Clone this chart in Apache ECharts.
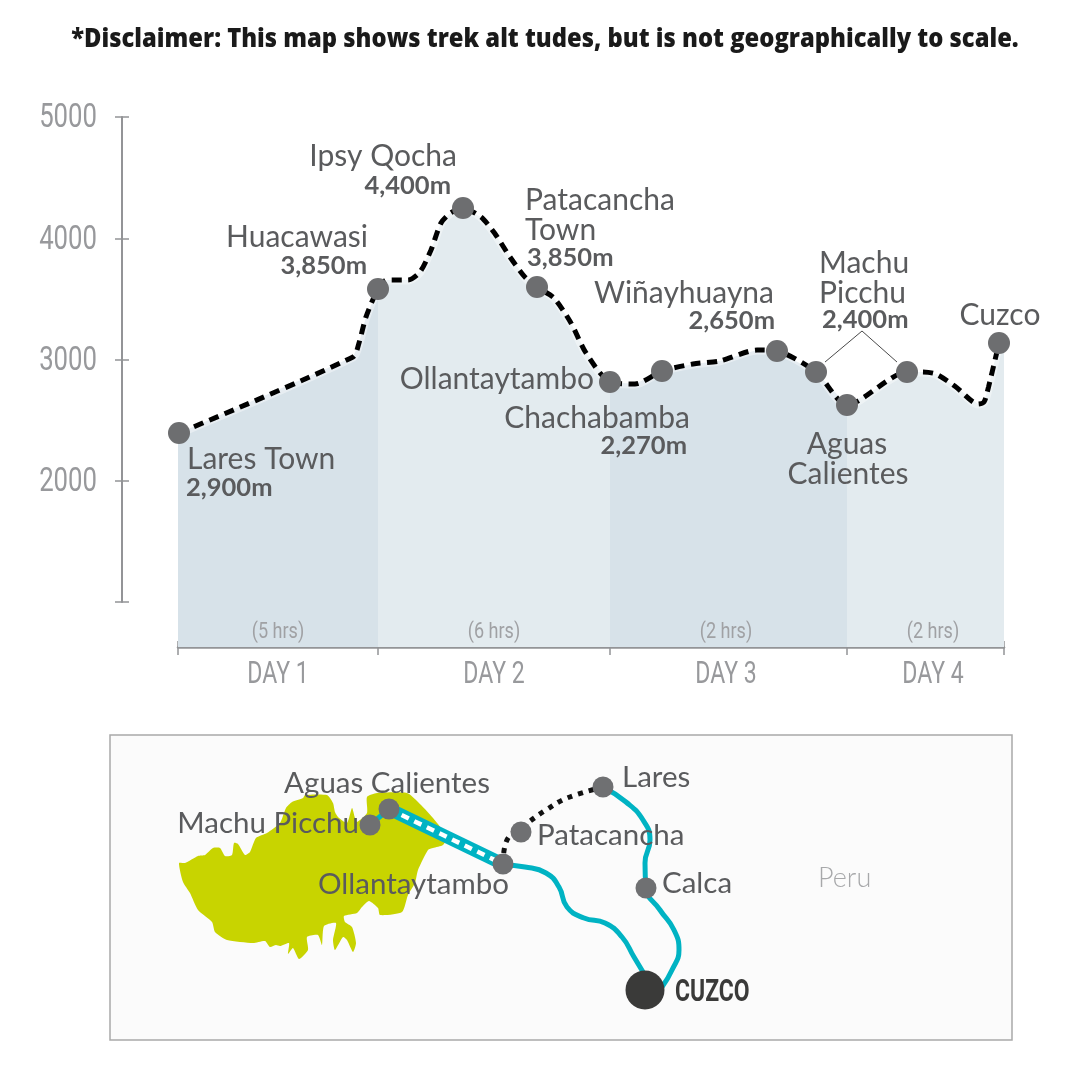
<!DOCTYPE html>
<html><head><meta charset="utf-8">
<style>html,body{margin:0;padding:0;background:#fff}#c{width:1080px;height:1080px}</style>
<script src="https://cdn.jsdelivr.net/npm/echarts@6/dist/echarts.min.js"></script>
</head><body><div id="c"></div>
<script>
// ---------- elevation data (x = trail position, y = altitude) ----------
const trailX = [1,175,181,188,200,209,230,242,253,263,272.5,285,303,316.5,332,347,359,376,393,408,432,457,484,515,542,579,599,638,669,729,744,758,778,800,806,810.5,821];
const trailAlt = [2394,3021,3136,3351,3581,3656,3656,3722,3903,4126,4208,4249,4175,4043,3845,3680,3598,3507,3301,3054,2814,2798,2905,2963,2988,3078,3070,2897,2625,2897,2897,2880,2773,2633,2649,2773,3136];
const waypointX = [1,200,285,359,432,484,599,638,669,729,821];
const waypointAlt = [2394,3581,4249,3598,2814,2905,3070,2897,2625,2897,3136];
const dayBounds = [0,200,432,669,826];
const dayLabelX = [99,315,547,754];
const dayLabels = ['DAY 1','DAY 2','DAY 3','DAY 4'];
const hourLabels = ['(5 hrs)','(6 hrs)','(2 hrs)','(2 hrs)'];
const yTicks = [2000,3000,4000,5000];
const fillEnd = [826,3136];
const fillFloor = 629;
const hourAlt = 752;
const dayLabelAlt = 398;
const leaderX = [647,684,719];
const leaderAlt = [2979,3235,2979];
const titleText = '*Disclaimer: This map shows trek alt tudes, but is not geographically to scale.';

// ---------- map data ----------
const landX = [69,75,88,95,103,110,115,122,124,128,135,140,146,157,170,176,182,193,195,217,223,225,228,237,242,245,247,257,257,267,297,308,323,337,333,323,318,308,305,298,292,270,268,259,252,247,234,235,242,246,243,237,233,225,223,226,214,212,208,197,198,189,183,178,179,170,166,160,155,143,117,105,102,88,80,73];
const landY = [128,128,121,120,113,113,121,120,108,109,120,117,103,98,88,73,67,63,60,60,68,77,82,88,73,83,87,78,62,58,58,67,83,102,110,113,115,135,148,160,177,180,173,166,172,178,181,187,192,208,217,205,202,215,205,188,191,210,200,202,215,224,213,219,208,211,210,212,206,208,205,197,187,175,158,147];
const routeOllantaX = [393,415,436,449,457,474,495,512,524,533];
const routeOllantaY = [130,132,138,152,172,183,188,202,222,237];
const routeLaresX = [493,516,533,540,535,536,550,564,569,562,552];
const routeLaresY = [52,67,85,105,128,153,175,195,215,235,252];
const railX = [279,393];
const railY = [74,129];
const spurX = [260,279];
const spurY = [90,74];
const trekX = [393,397,419,436,457,493];
const trekY = [129,105,87,75,63,52];
const nodeNames = ['Aguas Calientes','Machu Picchu','Ollantaytambo','Patacancha','Lares','Calca'];
const nodeX = [279,260,393,411,493,536];
const nodeY = [74,90,129,97,52,153];
const cityName = 'CUZCO';
const cityX = [535];
const cityY = [255];
const countryName = 'Peru';
const countryPos = [708,143];

// ---------- text layout (separate from the data) ----------
const LIGHT = '#5a5b5d';
const nameFont = '400 30px Lato';
const altFont = '700 25.5px Lato';
const chartLabels = [
 [0,'Lares Town',nameFont,'left',8,26],[0,'2,900m',altFont,'left',7,55],
 [1,'Huacawasi',nameFont,'right',-10,-52],[1,'3,850m',altFont,'right',-11,-23],
 [2,'Ipsy Qocha',nameFont,'right',-6,-52],[2,'4,400m',altFont,'right',-12,-22],
 [3,'Patacancha',nameFont,'left',-12,-87],[3,'Town',nameFont,'left',-12,-57],[3,'3,850m',altFont,'left',-10,-29],
 [4,'Ollantaytambo',nameFont,'right',-16,-3],
 [5,'Chachabamba',nameFont,'right',28,47],[5,'2,270m',altFont,'right',25,75],
 [6,'Wiñayhuayna',nameFont,'right',-3,-58],[6,'2,650m',altFont,'right',-2,-30],
 [7,'Machu',nameFont,'left',3,-109],[7,'Picchu',nameFont,'left',3,-79],[7,'2,400m',altFont,'left',6,-52],
 [8,'Aguas',nameFont,'center',0,39],[8,'Calientes',nameFont,'center',1,69],
 [10,'Cuzco',nameFont,'center',1,-28]
];
const mapFont = '400 29.5px Lato';
const mapLabels = [
 [0,'center',-2,-26],[1,'right',-11,-2],[2,'right',6,20],[3,'left',16,3],[4,'left',19,-10],[5,'left',16,-5]
];
const cond = 'Roboto';
const greyText = '#98999c';

function textItem(text,font,fill,align,x,y,scaleX){
  return {type:'text',x:x,y:y,scaleX:scaleX||1,
    style:{text:text,font:font,fill:fill,align:align,verticalAlign:'middle',x:0,y:0}};
}
const zipped = (a,b)=>a.map((v,i)=>[v,b[i]]);

function dayFill(params,api){
  const i = params.dataIndex, a = dayBounds[i], b = dayBounds[i+1];
  const pts = [];
  pts.push(api.coord([a,fillFloor]));
  if(i===0) pts.push(api.coord([a,trailAlt[0]]));
  trailX.forEach((x,k)=>{ if(x>=a&&x<=b) pts.push(api.coord([x,trailAlt[k]])); });
  if(i===dayBounds.length-2) pts.push(api.coord(fillEnd));
  pts.push(api.coord([b,fillFloor]));
  return {type:'polygon',shape:{points:pts},style:{fill:i%2===0?'#d7e2e9':'#e3ebef'},silent:true};
}

const axisGrey = '#939497';
const option = {
  animation:false,
  backgroundColor:'#ffffff',
  graphic:[{type:'text',x:545,y:39,scaleX:0.88,z:10,silent:true,
    style:{text:titleText,font:'800 27px "Open Sans"',fill:'#1a1a1a',align:'center',verticalAlign:'middle',x:0,y:0}}],
  grid:[
    {left:178,top:117,width:826,height:485},
    {left:110,top:735,width:902,height:305,show:true,backgroundColor:'#fbfbfb',borderColor:'#a9a9a9',borderWidth:1.5}
  ],
  xAxis:[
    {gridIndex:0,type:'value',min:0,max:826,position:'bottom',offset:45,
     axisLine:{show:true,onZero:false,lineStyle:{color:axisGrey,width:2.5}},
     axisTick:{show:true,customValues:dayBounds,length:8,lineStyle:{color:axisGrey,width:1.5}},
     axisLabel:{show:false},splitLine:{show:false}},
    {gridIndex:0,type:'value',min:0,max:826,position:'bottom',offset:45,
     axisLine:{show:false,onZero:false},
     axisTick:{show:true,inside:true,customValues:dayBounds,length:6,lineStyle:{color:axisGrey,width:1.5}},
     axisLabel:{show:false},splitLine:{show:false}},
    {gridIndex:1,type:'value',min:0,max:902,show:false}
  ],
  yAxis:[
    {gridIndex:0,type:'value',min:1000,max:5000,interval:1000,position:'left',offset:56,
     axisLine:{show:true,onZero:false,lineStyle:{color:axisGrey,width:2}},
     axisTick:{show:true,length:7,lineStyle:{color:axisGrey,width:1.5}},
     axisLabel:{show:false},splitLine:{show:false}},
    {gridIndex:0,type:'value',min:1000,max:5000,interval:1000,position:'left',offset:56,
     axisLine:{show:false,onZero:false},
     axisTick:{show:true,inside:true,length:7,lineStyle:{color:axisGrey,width:1.5}},
     axisLabel:{show:false},splitLine:{show:false}},
    {gridIndex:1,type:'value',min:0,max:305,inverse:true,show:false}
  ],
  series:[
    {type:'custom',xAxisIndex:0,yAxisIndex:0,z:1,clip:false,silent:true,
     data:dayLabels.map((d,i)=>[dayBounds[i],fillFloor]),encode:{x:0,y:1},renderItem:dayFill},
    {type:'line',xAxisIndex:0,yAxisIndex:0,z:2,smooth:0.25,symbol:'none',silent:true,
     data:zipped(trailX,trailAlt),lineStyle:{color:'#ffffff',width:9,opacity:0.4}},
    {type:'line',xAxisIndex:0,yAxisIndex:0,z:3,smooth:0.25,symbol:'none',silent:true,
     data:zipped(trailX,trailAlt),lineStyle:{color:'#000000',width:5,type:[10,6.5]}},
    {type:'line',xAxisIndex:0,yAxisIndex:0,z:3,symbol:'none',silent:true,
     data:zipped(leaderX,leaderAlt),lineStyle:{color:'#4a4a4a',width:1}},
    {type:'scatter',xAxisIndex:0,yAxisIndex:0,z:4,symbol:'circle',symbolSize:22,silent:true,
     data:zipped(waypointX,waypointAlt),itemStyle:{color:'#6d6e70',opacity:1}},
    {type:'custom',xAxisIndex:0,yAxisIndex:0,z:5,clip:false,silent:true,
     data:chartLabels.map(l=>[waypointX[l[0]],waypointAlt[l[0]]]),encode:{x:0,y:1},
     renderItem:(p,api)=>{const l=chartLabels[p.dataIndex],c=api.coord([api.value(0),api.value(1)]);
       return textItem(l[1],l[2],LIGHT,l[3],c[0]+l[4],c[1]+l[5]);}},
    // y axis tick labels
    {type:'custom',xAxisIndex:0,yAxisIndex:0,z:5,clip:false,silent:true,
     data:yTicks.map(v=>[0,v]),encode:{x:0,y:1},
     renderItem:(p,api)=>{const c=api.coord([api.value(0),api.value(1)]);
       return textItem(String(api.value(1)),'400 33px '+cond,greyText,'right',c[0]-81,c[1]+2,0.78);}},
    // day names
    {type:'custom',xAxisIndex:0,yAxisIndex:0,z:5,clip:false,silent:true,
     data:dayLabelX.map(x=>[x,dayLabelAlt]),encode:{x:0,y:1},
     renderItem:(p,api)=>{const c=api.coord([api.value(0),api.value(1)]);
       return textItem(dayLabels[p.dataIndex],'400 32px '+cond,greyText,'center',c[0]+1,c[1],0.72);}},
    // hours
    {type:'custom',xAxisIndex:0,yAxisIndex:0,z:5,clip:false,silent:true,
     data:dayLabelX.map(x=>[x,hourAlt]),encode:{x:0,y:1},
     renderItem:(p,api)=>{const c=api.coord([api.value(0),api.value(1)]);
       return textItem(hourLabels[p.dataIndex],'400 22px '+cond,'#a0a1a4','center',c[0]+1,c[1],0.82);}},
    // map
    {type:'custom',xAxisIndex:2,yAxisIndex:2,z:1,clip:false,silent:true,
     data:[[landX[0],landY[0]]],encode:{x:0,y:1},
     renderItem:(p,api)=>({type:'polygon',shape:{smooth:0.2,points:landX.map((x,i)=>api.coord([x,landY[i]]))},style:{fill:'#c8d400'}})},
    {type:'line',xAxisIndex:2,yAxisIndex:2,z:2,smooth:0.5,symbol:'none',silent:true,
     data:zipped(routeOllantaX,routeOllantaY),lineStyle:{color:'#00b3c3',width:5}},
    {type:'line',xAxisIndex:2,yAxisIndex:2,z:2,smooth:0.5,symbol:'none',silent:true,
     data:zipped(routeLaresX,routeLaresY),lineStyle:{color:'#00b3c3',width:5}},
    {type:'line',xAxisIndex:2,yAxisIndex:2,z:2,symbol:'none',silent:true,
     data:zipped(spurX,spurY),lineStyle:{color:'#00b3c3',width:5}},
    {type:'line',xAxisIndex:2,yAxisIndex:2,z:2,symbol:'none',silent:true,
     data:zipped(railX,railY),lineStyle:{color:'#00b3c3',width:13}},
    {type:'line',xAxisIndex:2,yAxisIndex:2,z:3,symbol:'none',silent:true,
     data:zipped(railX,railY),lineStyle:{color:'#ffffff',width:4.5,type:[8,6]}},
    {type:'line',xAxisIndex:2,yAxisIndex:2,z:3,smooth:0.4,symbol:'none',silent:true,
     data:zipped(trekX,trekY),lineStyle:{color:'#111111',width:5,type:[5,6]}},
    {type:'custom',xAxisIndex:2,yAxisIndex:2,z:4,clip:false,silent:true,
     data:mapLabels.map(l=>[nodeX[l[0]],nodeY[l[0]]]),encode:{x:0,y:1},
     renderItem:(p,api)=>{const l=mapLabels[p.dataIndex],c=api.coord([api.value(0),api.value(1)]);
       return textItem(nodeNames[l[0]],mapFont,LIGHT,l[1],c[0]+l[2],c[1]+l[3]);}},
    {type:'scatter',xAxisIndex:2,yAxisIndex:2,z:5,symbol:'circle',symbolSize:21,silent:true,
     data:zipped(nodeX,nodeY),itemStyle:{color:'#6f7072',opacity:1}},
    {type:'scatter',xAxisIndex:2,yAxisIndex:2,z:5,symbol:'circle',symbolSize:39,silent:true,
     data:zipped(cityX,cityY),itemStyle:{color:'#3a3a39',opacity:1}},
    {type:'custom',xAxisIndex:2,yAxisIndex:2,z:5,clip:false,silent:true,
     data:zipped(cityX,cityY),encode:{x:0,y:1},
     renderItem:(p,api)=>{const c=api.coord([api.value(0),api.value(1)]);
       return textItem(cityName,'700 31px '+cond,'#3a3a39','left',c[0]+30,c[1]+3,0.74);}},
    {type:'custom',xAxisIndex:2,yAxisIndex:2,z:4,clip:false,silent:true,
     data:[countryPos],encode:{x:0,y:1},
     renderItem:(p,api)=>{const c=api.coord([api.value(0),api.value(1)]);
       return textItem(countryName,'300 27px Lato','#a7a8aa','left',c[0],c[1]);}}
  ]
};
const chart = echarts.init(document.getElementById('c'),null,{renderer:'canvas',width:1080,height:1080});
chart.setOption(option);
</script></body></html>
